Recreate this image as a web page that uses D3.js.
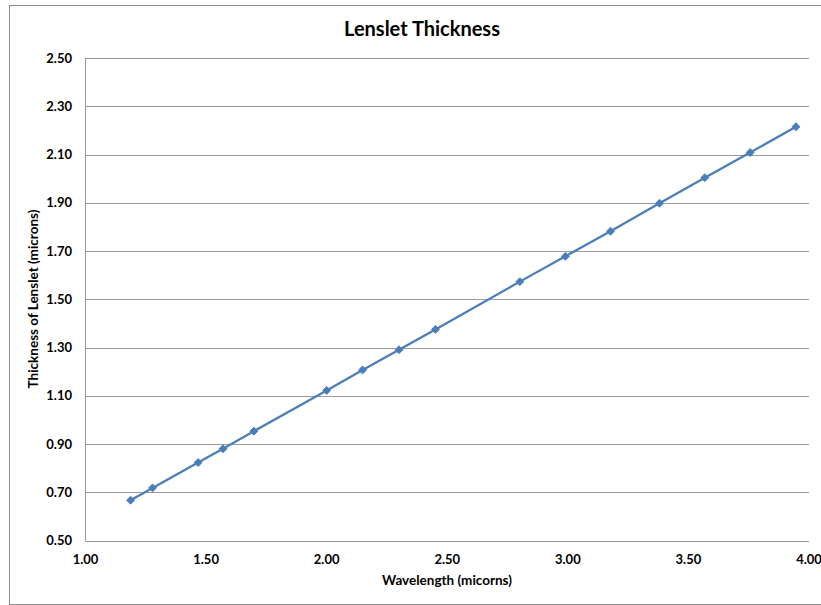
<!DOCTYPE html>
<html>
<head>
<meta charset="utf-8">
<script src="https://cdn.jsdelivr.net/npm/d3@7"></script>
<style>
  body { margin: 0; background: #fff; overflow: hidden; }
  text { font-family: Lato, "Open Sans", sans-serif; font-weight: bold; fill: #000; }
</style>
</head>
<body>
<div id="chart"></div>
<script>
// ******* Data *******
var wavelength = [1.187, 1.278, 1.467, 1.570, 1.698, 2.000, 2.149, 2.300, 2.451,
                  2.801, 2.990, 3.177, 3.380, 3.568, 3.756, 3.946];
var thickness = [0.667, 0.718, 0.823, 0.880, 0.953, 1.122, 1.207, 1.291, 1.375,
                 1.573, 1.678, 1.782, 1.898, 2.004, 2.108, 2.215];
var xTicks = [1.0, 1.5, 2.0, 2.5, 3.0, 3.5, 4.0];
var yTicks = [0.5, 0.7, 0.9, 1.1, 1.3, 1.5, 1.7, 1.9, 2.1, 2.3, 2.5];

// ******* Set up *******
var w = 821, h = 605;
var plotLeft = 85.5, plotRight = 809, plotTop = 58, plotBottom = 540.5;
var svg = d3.select("#chart").append("svg").attr("width", w).attr("height", h);

var x = d3.scaleLinear().domain([1, 4]).range([plotLeft, plotRight]);
var y = d3.scaleLinear().domain([0.5, 2.5]).range([plotBottom, plotTop]);

// outer chart border
svg.append("rect")
  .attr("x", 9.5).attr("y", 5.5)
  .attr("width", 830).attr("height", 599)
  .attr("fill", "none").attr("stroke", "#8c8c8c").attr("stroke-width", 1);

// ******* Grid *******
svg.append("g")
  .selectAll("line")
  .data(yTicks)
  .enter().append("line")
  .attr("x1", plotLeft).attr("x2", plotRight)
  .attr("y1", d => Math.round(y(d)) + 0.5).attr("y2", d => Math.round(y(d)) + 0.5)
  .attr("stroke", "#9a9a9a").attr("stroke-width", 1);

svg.append("line")
  .attr("x1", plotLeft).attr("x2", plotLeft)
  .attr("y1", plotTop).attr("y2", Math.round(plotBottom) + 0.5)
  .attr("stroke", "#9a9a9a").attr("stroke-width", 1);

// ******* Axes labels *******
svg.append("g")
  .selectAll("text")
  .data(yTicks)
  .enter().append("text")
  .attr("x", 72)
  .attr("y", d => y(d))
  .attr("dy", "0.35em")
  .attr("text-anchor", "end")
  .style("font-size", "13px")
  .text(d => d3.format(".2f")(d));

svg.append("g")
  .selectAll("text")
  .data(xTicks)
  .enter().append("text")
  .attr("x", d => x(d))
  .attr("y", 564)
  .attr("text-anchor", "middle")
  .style("font-size", "13px")
  .text(d => d3.format(".2f")(d));

svg.append("text")
  .attr("x", 422).attr("y", 36)
  .attr("text-anchor", "middle")
  .style("font-size", "20px")
  .text("Lenslet Thickness");

svg.append("text")
  .attr("x", 447).attr("y", 585)
  .attr("text-anchor", "middle")
  .style("font-size", "13.5px")
  .text("Wavelength (micorns)");

svg.append("text")
  .attr("transform", "translate(38,299) rotate(-90)")
  .attr("text-anchor", "middle")
  .style("font-size", "13.5px")
  .text("Thickness of Lenslet (microns)");

// ******* Series *******
var pts = wavelength.map((d, i) => [d, thickness[i]]);
var line = d3.line().x(d => x(d[0])).y(d => y(d[1]));

svg.append("path")
  .datum(pts)
  .attr("d", line)
  .attr("fill", "none")
  .attr("stroke", "#4a7ebb")
  .attr("stroke-width", 2.25);

var diamond = d3.symbol().type(d3.symbolDiamond2).size(40);
svg.append("g")
  .selectAll("path")
  .data(pts)
  .enter().append("path")
  .attr("transform", d => `translate(${x(d[0])},${y(d[1])})`)
  .attr("d", diamond)
  .attr("fill", "#4a7ebb")
  .attr("stroke", "#4a7ebb")
  .attr("stroke-width", 1);
</script>
</body>
</html>
